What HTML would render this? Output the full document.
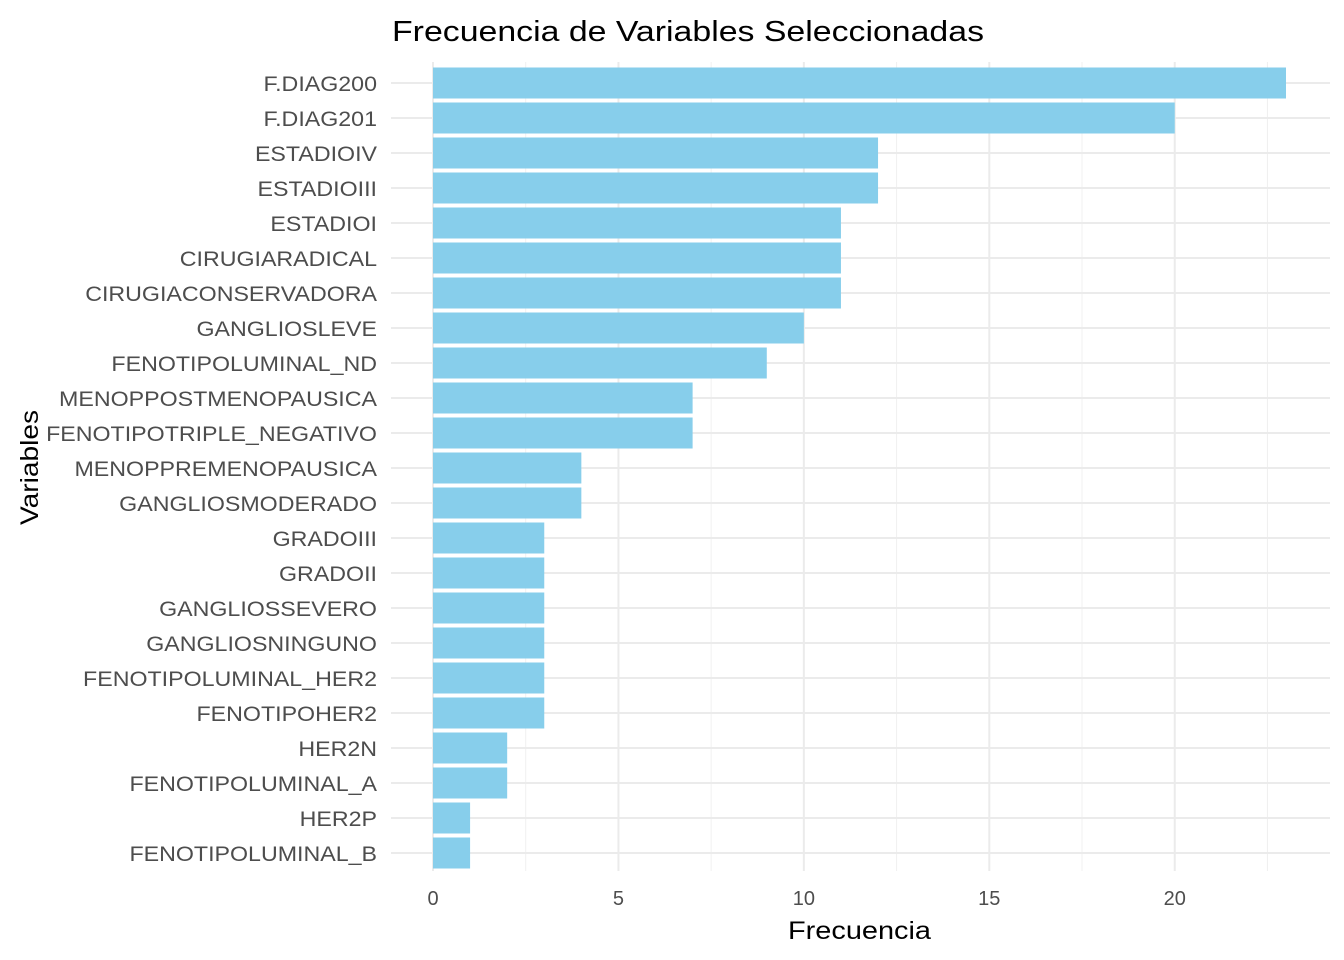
<!DOCTYPE html>
<html><head><meta charset="utf-8"><style>
body{margin:0;background:#fff;}
svg{display:block;font-family:"Liberation Sans",Arial,sans-serif;}
</style></head><body>
<svg id="chart" width="1344" height="960" viewBox="0 0 1344 960">
<text id="title" x="392" y="41" font-size="29" fill="#000">Frecuencia de Variables Seleccionadas</text>
<text id="xt" x="788" y="939" font-size="25" fill="#000">Frecuencia</text>
<text id="yt" transform="translate(38,525) rotate(-90)" font-size="25" fill="#000">Variables</text>
<g id="grid"></g><g id="bars"></g><g id="labels"></g>
</svg>
<script>
const categories=["F.DIAG200","F.DIAG201","ESTADIOIV","ESTADIOIII","ESTADIOI","CIRUGIARADICAL","CIRUGIACONSERVADORA","GANGLIOSLEVE","FENOTIPOLUMINAL_ND","MENOPPOSTMENOPAUSICA","FENOTIPOTRIPLE_NEGATIVO","MENOPPREMENOPAUSICA","GANGLIOSMODERADO","GRADOIII","GRADOII","GANGLIOSSEVERO","GANGLIOSNINGUNO","FENOTIPOLUMINAL_HER2","FENOTIPOHER2","HER2N","FENOTIPOLUMINAL_A","HER2P","FENOTIPOLUMINAL_B"];
const values=[23,20,12,12,11,11,11,10,9,7,7,4,4,3,3,3,3,3,3,2,2,1,1];
const xTicks=[0,5,10,15,20];
const xMinor=[2.5,7.5,12.5,17.5,22.5];
const NS="http://www.w3.org/2000/svg";
const x=v=>433+v*(1286-433)/23;
const y=i=>83+i*35;
const panelL=391,panelR=1330,panelT=62,panelB=871;
function mk(tag,attrs,parent){const e=document.createElementNS(NS,tag);for(const k in attrs)e.setAttribute(k,attrs[k]);document.getElementById(parent).appendChild(e);return e;}
function stretch(el,w){el.setAttribute("textLength",w);el.setAttribute("lengthAdjust","spacingAndGlyphs");}
xMinor.forEach(t=>{const l=mk("line",{x1:x(t),x2:x(t),y1:panelT,y2:panelB,stroke:"#f0f0f0","stroke-width":1},"grid");

});
xTicks.forEach(t=>{const l=mk("line",{x1:x(t),x2:x(t),y1:panelT,y2:panelB,stroke:"#ebebeb","stroke-width":2},"grid");


const tx=mk("text",{x:x(t),y:905,"font-size":20,"text-anchor":"middle",fill:"#4d4d4d"},"labels");tx.textContent=t;

});
categories.forEach((c,i)=>{const l=mk("line",{x1:panelL,x2:panelR,y1:y(i),y2:y(i),stroke:"#ebebeb","stroke-width":2},"grid");


const r=mk("rect",{x:x(0),y:y(i)-15.5,width:x(values[i])-x(0),height:31,fill:"#87ceeb"},"bars");


const tx=mk("text",{x:377,y:y(i)+8,"font-size":21,"text-anchor":"end",fill:"#4d4d4d"},"labels");tx.textContent=c;


const w=tx.getComputedTextLength();stretch(tx,w*(20/21)*1.16);});
stretch(document.getElementById("title"),592);
stretch(document.getElementById("xt"),143);
stretch(document.getElementById("yt"),115);
</script>
</body></html>
